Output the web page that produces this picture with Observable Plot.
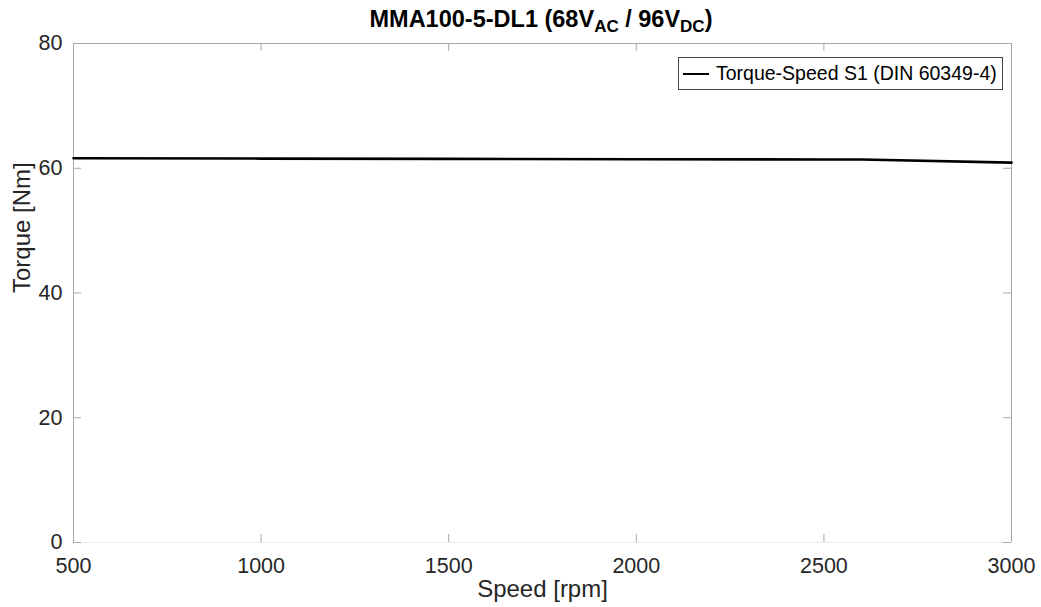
<!DOCTYPE html>
<html>
<head>
<meta charset="utf-8">
<script src="https://cdn.jsdelivr.net/npm/d3@7"></script>
<script src="https://cdn.jsdelivr.net/npm/@observablehq/plot@0.6"></script>
<style>
  html, body { margin: 0; padding: 0; background: #fff; }
  #wrap { position: relative; width: 1041px; height: 607px; font-family: "Liberation Sans", Arial, sans-serif; }
  #title { height: 36px; line-height: 38px; text-align: center; font-weight: bold; font-size: 23.5px; color: #000; padding-left: 41px; box-sizing: border-box; }
  #title sub { font-size: 17px; vertical-align: -5px; line-height: 0; }
  #legend { position: absolute; left: 678px; top: 57px; width: 325px; height: 33px; border: 1px solid #444; background: #fff;
            font-size: 19.5px; color: #000; display: flex; align-items: center; box-sizing: border-box; }
  #legend .sw { width: 26px; height: 0; border-top: 2.5px solid #000; margin-left: 4px; margin-right: 7px; }
</style>
</head>
<body>
<div id="wrap">
  <div id="title">MMA100-5-DL1 (68V<sub>AC</sub> / 96V<sub>DC</sub>)</div>
  <div id="chart"></div>
  <div id="legend"><span class="sw"></span><span>Torque-Speed S1 (DIN 60349-4)</span></div>
</div>
<script>
const speed = [500, 1000, 1500, 2000, 2500, 2600, 3000];
const torque = [61.6, 61.55, 61.5, 61.45, 61.4, 61.4, 60.9];
const xTicks = [500, 1000, 1500, 2000, 2500, 3000];
const yTicks = [0, 20, 40, 60, 80];
const xDomain = [500, 3000];
const yDomain = [0, 80];
const xLabel = "Speed [rpm]";
const yLabel = "Torque [Nm]";

const data = speed.map((s, i) => ({speed: s, torque: torque[i]}));

const W = 1041, H = 571;
const mt = 7, mb = 65, ml = 73, mr = 30;
const pw = W - ml - mr, ph = H - mt - mb;
const tick = 8;
const frameColor = "#a8a8a8";

const chart = Plot.plot({
  width: W, height: H,
  marginTop: mt, marginBottom: mb, marginLeft: ml, marginRight: mr,
  style: {fontFamily: "'Liberation Sans', Arial, sans-serif", fontSize: "21px", color: "#262626", background: "#fff", overflow: "visible"},
  x: {domain: xDomain, ticks: xTicks},
  y: {domain: yDomain, ticks: yTicks},
  marks: [
    Plot.ruleY([yDomain[0]], {stroke: "#ececec", strokeWidth: 1}),
    Plot.ruleY([yDomain[1]], {stroke: frameColor, strokeWidth: 1}),
    Plot.ruleX(xDomain, {stroke: frameColor, strokeWidth: 1}),
    Plot.tickX(xTicks, {x: d => d, stroke: frameColor, insetTop: ph - tick}),
    Plot.tickX(xTicks, {x: d => d, stroke: frameColor, insetBottom: ph - tick}),
    Plot.tickY(yTicks, {y: d => d, stroke: frameColor, insetRight: pw - tick}),
    Plot.tickY(yTicks, {y: d => d, stroke: frameColor, insetLeft: pw - tick}),
    Plot.axisX(xTicks, {tickSize: 0, tickPadding: 15, label: null, fill: "#262626", fontSize: 21.5, tickFormat: d => String(d)}),
    Plot.axisY(yTicks, {tickSize: 0, tickPadding: 11, label: null, fill: "#262626", fontSize: 21.5, tickFormat: d => String(d)}),
    Plot.line(data, {x: "speed", y: "torque", stroke: "#000", strokeWidth: 2.6}),
    Plot.text([xLabel], {text: d => d, frameAnchor: "bottom", dy: 54, fontSize: 24, fill: "#262626"}),
    Plot.text([yLabel], {text: d => d, frameAnchor: "left", dx: -51, rotate: -90, fontSize: 24, fill: "#262626"})
  ]
});
document.getElementById("chart").appendChild(chart);
</script>
</body>
</html>
